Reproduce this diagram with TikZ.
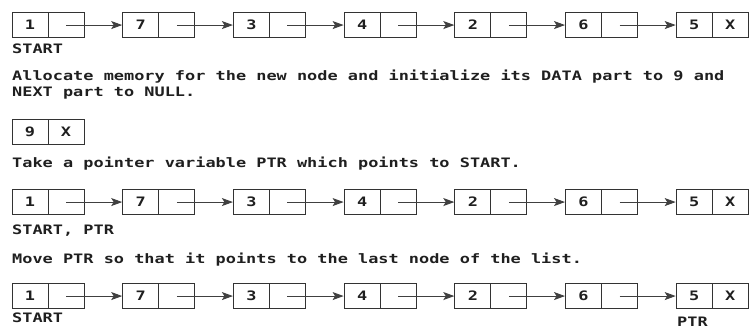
\documentclass[tikz,border=0pt]{standalone}
\usepackage{fontspec}
\setmonofont[FakeStretch=1.3]{DejaVu Sans Mono}
\usetikzlibrary{arrows.meta}
\begin{document}
\begin{tikzpicture}[x=1pt,y=-1pt,
  txt/.style={font=\ttfamily\bfseries\fontsize{13}{15}\selectfont, text=black!88},
  cell/.style={txt, draw=black!80, line width=1.1pt, minimum width=36pt, minimum height=25pt, inner sep=0pt, anchor=north west},
  lbl/.style={txt, anchor=base west, inner sep=0pt},
  arr/.style={draw=black!75, line width=0.9pt, -{Stealth[length=11pt,width=8pt,inset=2.5pt]}}]
\useasboundingbox (0,0) rectangle (750,325);
% three lists
\foreach \r/\y in {a/12, b/189, c/283}{
  \foreach \v/\q [count=\i from 0] in {1/,7/,3/,4/,2/,6/,5/X}{
    \pgfmathsetmacro\xx{11.5+110.7*\i}
    \node[cell] (d\r\i) at (\xx,\y) {\v};
    \node[cell] (p\r\i) at (\xx+36,\y) {\q};
  }
  \foreach \i [evaluate=\i as \j using int(\i+1)] in {0,...,5}
    \draw[arr] (p\r\i.center) -- (d\r\j.west);
}
% new node
\node[cell] (nd) at (11.5,119) {9};
\node[cell] (np) at (47.5,119) {X};
% labels and text
\node[lbl] (s1) at (12,53) {START};
\node[lbl] (t1) at (12,80) {Allocate memory for the new node and initialize its DATA part to 9 and};
\node[lbl] (t2) at (12,96) {NEXT part to NULL.};
\node[lbl] (t3) at (12,167) {Take a pointer variable PTR which points to START.};
\node[lbl] (s2) at (12,234) {START, PTR};
\node[lbl] (t4) at (12,263) {Move PTR so that it points to the last node of the list.};
\node[lbl] (s3) at (12,322) {START};
\node[lbl] (s4) at (677,326) {PTR};
\end{tikzpicture}
\end{document}
